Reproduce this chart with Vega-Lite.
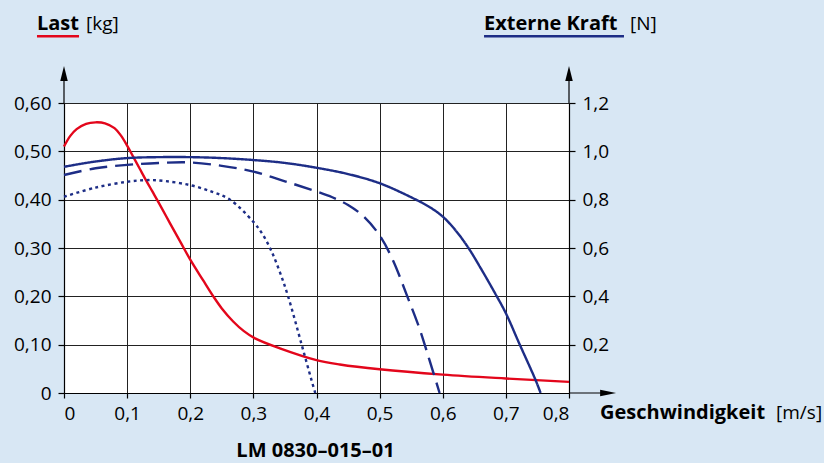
{
  "$schema": "https://vega.github.io/schema/vega-lite/v6.json",
  "width": 505,
  "height": 290,
  "autosize": {"type": "none"},
  "padding": {"left": 64, "top": 103, "right": 255, "bottom": 70},
  "background": "#d8e7f4",
  "config": {
    "view": {"fill": "white", "stroke": null},
    "font": "Open Sans",
    "text": {"font": "Open Sans", "fontSize": 19, "color": "black", "align": "left", "baseline": "alphabetic"},
    "axis": {
      "domainColor": "black", "domainWidth": 1.2, "tickColor": "black", "tickWidth": 1.2, "labelColor": "black",
      "labelFont": "Open Sans", "labelFontSize": 19, "gridColor": "#222222", "gridWidth": 1,
      "tickSize": 6, "labelPadding": 7, "title": null
    },
    "axisBottom": {"labelPadding": 6, "tickSize": 5},
    "axisRight": {"grid": false}
  },
  "datasets": {
    "one": [{}],
    "last": [
      {"v": 0, "kg": 0.51}, {"v": 0.01, "kg": 0.532}, {"v": 0.02, "kg": 0.546}, {"v": 0.035, "kg": 0.557},
      {"v": 0.05, "kg": 0.56}, {"v": 0.065, "kg": 0.558}, {"v": 0.08, "kg": 0.548}, {"v": 0.09, "kg": 0.533},
      {"v": 0.1, "kg": 0.512}, {"v": 0.11, "kg": 0.488}, {"v": 0.12, "kg": 0.464}, {"v": 0.13, "kg": 0.44},
      {"v": 0.14, "kg": 0.417}, {"v": 0.15, "kg": 0.394}, {"v": 0.168, "kg": 0.351}, {"v": 0.185, "kg": 0.311},
      {"v": 0.2, "kg": 0.276}, {"v": 0.22, "kg": 0.234}, {"v": 0.2365, "kg": 0.2}, {"v": 0.25, "kg": 0.175},
      {"v": 0.268, "kg": 0.148}, {"v": 0.285, "kg": 0.128}, {"v": 0.3026, "kg": 0.113}, {"v": 0.342, "kg": 0.0924},
      {"v": 0.4, "kg": 0.068}, {"v": 0.437, "kg": 0.059}, {"v": 0.5, "kg": 0.049}, {"v": 0.6, "kg": 0.038},
      {"v": 0.7, "kg": 0.03}, {"v": 0.8, "kg": 0.023}
    ],
    "kraft": [
      {"kurve": "Kurve 1", "v": 0, "n": 0.936}, {"kurve": "Kurve 1", "v": 0.05, "n": 0.958},
      {"kurve": "Kurve 1", "v": 0.1, "n": 0.972}, {"kurve": "Kurve 1", "v": 0.15, "n": 0.976},
      {"kurve": "Kurve 1", "v": 0.2, "n": 0.976}, {"kurve": "Kurve 1", "v": 0.25, "n": 0.972},
      {"kurve": "Kurve 1", "v": 0.3, "n": 0.964}, {"kurve": "Kurve 1", "v": 0.35, "n": 0.952},
      {"kurve": "Kurve 1", "v": 0.4, "n": 0.932}, {"kurve": "Kurve 1", "v": 0.45, "n": 0.906},
      {"kurve": "Kurve 1", "v": 0.5, "n": 0.868}, {"kurve": "Kurve 1", "v": 0.553, "n": 0.806},
      {"kurve": "Kurve 1", "v": 0.58, "n": 0.768}, {"kurve": "Kurve 1", "v": 0.6, "n": 0.73},
      {"kurve": "Kurve 1", "v": 0.62, "n": 0.674}, {"kurve": "Kurve 1", "v": 0.64, "n": 0.603},
      {"kurve": "Kurve 1", "v": 0.66, "n": 0.517}, {"kurve": "Kurve 1", "v": 0.683, "n": 0.412},
      {"kurve": "Kurve 1", "v": 0.7, "n": 0.33}, {"kurve": "Kurve 1", "v": 0.721, "n": 0.206},
      {"kurve": "Kurve 1", "v": 0.747, "n": 0.054}, {"kurve": "Kurve 1", "v": 0.755, "n": 0},
      {"kurve": "Kurve 2", "v": 0, "n": 0.902}, {"kurve": "Kurve 2", "v": 0.05, "n": 0.93},
      {"kurve": "Kurve 2", "v": 0.1, "n": 0.944}, {"kurve": "Kurve 2", "v": 0.15, "n": 0.952},
      {"kurve": "Kurve 2", "v": 0.2, "n": 0.954}, {"kurve": "Kurve 2", "v": 0.25, "n": 0.94},
      {"kurve": "Kurve 2", "v": 0.3, "n": 0.916}, {"kurve": "Kurve 2", "v": 0.35, "n": 0.876},
      {"kurve": "Kurve 2", "v": 0.4, "n": 0.834}, {"kurve": "Kurve 2", "v": 0.425, "n": 0.81},
      {"kurve": "Kurve 2", "v": 0.45, "n": 0.778}, {"kurve": "Kurve 2", "v": 0.475, "n": 0.73},
      {"kurve": "Kurve 2", "v": 0.5, "n": 0.652}, {"kurve": "Kurve 2", "v": 0.521, "n": 0.55},
      {"kurve": "Kurve 2", "v": 0.542, "n": 0.412}, {"kurve": "Kurve 2", "v": 0.563, "n": 0.268},
      {"kurve": "Kurve 2", "v": 0.579, "n": 0.136}, {"kurve": "Kurve 2", "v": 0.595, "n": 0},
      {"kurve": "Kurve 3", "v": 0, "n": 0.812}, {"kurve": "Kurve 3", "v": 0.05, "n": 0.85},
      {"kurve": "Kurve 3", "v": 0.1, "n": 0.874}, {"kurve": "Kurve 3", "v": 0.131, "n": 0.881},
      {"kurve": "Kurve 3", "v": 0.16, "n": 0.877}, {"kurve": "Kurve 3", "v": 0.2, "n": 0.86},
      {"kurve": "Kurve 3", "v": 0.235, "n": 0.832}, {"kurve": "Kurve 3", "v": 0.263, "n": 0.8},
      {"kurve": "Kurve 3", "v": 0.3, "n": 0.708}, {"kurve": "Kurve 3", "v": 0.315, "n": 0.655},
      {"kurve": "Kurve 3", "v": 0.329, "n": 0.585}, {"kurve": "Kurve 3", "v": 0.342, "n": 0.5},
      {"kurve": "Kurve 3", "v": 0.355, "n": 0.4}, {"kurve": "Kurve 3", "v": 0.3765, "n": 0.2},
      {"kurve": "Kurve 3", "v": 0.392, "n": 0.054}, {"kurve": "Kurve 3", "v": 0.398, "n": 0}
    ]
  },
  "layer": [
    {
      "layer": [
        {
          "data": {"name": "last"},
          "mark": {"type": "line", "color": "#e3061b", "strokeWidth": 2.4, "interpolate": "catmull-rom"},
          "encoding": {
            "x": {"field": "v", "type": "quantitative", "title": null,
                  "scale": {"domain": [0, 0.8], "nice": false},
                  "axis": {"values": [0, 0.1, 0.2, 0.3, 0.4, 0.5, 0.6, 0.7, 0.8], "grid": true,
                           "labelExpr": "datum.value == 0 ? '0' : replace(format(datum.value, '.1f'), '.', ',')"}},
            "y": {"field": "kg", "type": "quantitative", "title": null,
                  "scale": {"domain": [0, 0.6], "nice": false},
                  "axis": {"orient": "left", "values": [0, 0.1, 0.2, 0.3, 0.4, 0.5, 0.6], "grid": true,
                           "labelExpr": "datum.value == 0 ? '0' : replace(format(datum.value, '.2f'), '.', ',')"}}
          }
        },
        {
          "data": {"name": "one"},
          "mark": {"type": "rule", "color": "black", "strokeWidth": 1.2},
          "encoding": {"x": {"datum": 0, "type": "quantitative"}, "y": {"datum": 0.6, "type": "quantitative"}, "y2": {"datum": 0.65}}
        },
        {
          "data": {"name": "one"},
          "mark": {"type": "rule", "color": "black", "strokeWidth": 1.2},
          "encoding": {"x": {"datum": 0.8, "type": "quantitative"}, "y": {"datum": 0.6, "type": "quantitative"}, "y2": {"datum": 0.65}}
        },
        {
          "data": {"name": "one"},
          "mark": {"type": "rule", "color": "black", "strokeWidth": 1.2},
          "encoding": {"x": {"datum": 0.8, "type": "quantitative"}, "x2": {"datum": 0.855}, "y": {"datum": 0, "type": "quantitative"}}
        },
        {
          "data": {"name": "one"},
          "mark": {"type": "point", "shape": "M0,-1L0.5,1L-0.5,1Z", "filled": true, "color": "black", "size": 225, "opacity": 1},
          "encoding": {"x": {"datum": 0, "type": "quantitative"}, "y": {"datum": 0.661, "type": "quantitative"}}
        },
        {
          "data": {"name": "one"},
          "mark": {"type": "point", "shape": "M0,-1L0.5,1L-0.5,1Z", "filled": true, "color": "black", "size": 225, "opacity": 1},
          "encoding": {"x": {"datum": 0.8, "type": "quantitative"}, "y": {"datum": 0.661, "type": "quantitative"}}
        },
        {
          "data": {"name": "one"},
          "mark": {"type": "point", "shape": "M1,0L-1,-0.4L-1,0.4Z", "filled": true, "color": "black", "size": 256, "opacity": 1},
          "encoding": {"x": {"datum": 0.862, "type": "quantitative"}, "y": {"datum": 0, "type": "quantitative"}}
        },
        {
          "data": {"name": "one"},
          "mark": {"type": "text", "text": "Last", "fontWeight": "bold", "fontSize": 20},
          "encoding": {"x": {"datum": -0.0428, "type": "quantitative"}, "y": {"datum": 0.751, "type": "quantitative"}}
        },
        {
          "data": {"name": "one"},
          "mark": {"type": "text", "text": "[kg]"},
          "encoding": {"x": {"datum": 0.0349, "type": "quantitative"}, "y": {"datum": 0.751, "type": "quantitative"}}
        },
        {
          "data": {"name": "one"},
          "mark": {"type": "rule", "color": "#e3061b", "strokeWidth": 2.5},
          "encoding": {"x": {"datum": -0.0428, "type": "quantitative"}, "x2": {"datum": 0.0238}, "y": {"datum": 0.738, "type": "quantitative"}}
        },
        {
          "data": {"name": "one"},
          "mark": {"type": "text", "text": "Externe Kraft", "fontWeight": "bold", "fontSize": 20},
          "encoding": {"x": {"datum": 0.6654, "type": "quantitative"}, "y": {"datum": 0.751, "type": "quantitative"}}
        },
        {
          "data": {"name": "one"},
          "mark": {"type": "text", "text": "[N]"},
          "encoding": {"x": {"datum": 0.8966, "type": "quantitative"}, "y": {"datum": 0.751, "type": "quantitative"}}
        },
        {
          "data": {"name": "one"},
          "mark": {"type": "rule", "color": "#1d2d86", "strokeWidth": 2.5},
          "encoding": {"x": {"datum": 0.6654, "type": "quantitative"}, "x2": {"datum": 0.8871}, "y": {"datum": 0.738, "type": "quantitative"}}
        },
        {
          "data": {"name": "one"},
          "mark": {"type": "text", "text": "Geschwindigkeit", "fontWeight": "bold", "fontSize": 20},
          "encoding": {"x": {"datum": 0.8491, "type": "quantitative"}, "y": {"datum": -0.0538, "type": "quantitative"}}
        },
        {
          "data": {"name": "one"},
          "mark": {"type": "text", "text": "[m/s]"},
          "encoding": {"x": {"datum": 1.128, "type": "quantitative"}, "y": {"datum": -0.0538, "type": "quantitative"}}
        },
        {
          "data": {"name": "one"},
          "mark": {"type": "text", "text": "LM 0830–015–01", "fontWeight": "bold", "fontSize": 20, "align": "center"},
          "encoding": {"x": {"datum": 0.3984, "type": "quantitative"}, "y": {"datum": -0.1324, "type": "quantitative"}}
        }
      ]
    },
    {
      "data": {"name": "kraft"},
      "mark": {"type": "line", "color": "#1d2d86", "strokeWidth": 2.4, "interpolate": "catmull-rom"},
      "encoding": {
        "x": {"field": "v", "type": "quantitative", "title": null},
        "y": {"field": "n", "type": "quantitative", "title": null,
              "scale": {"domain": [0, 1.2], "nice": false},
              "axis": {"orient": "right", "values": [0.2, 0.4, 0.6, 0.8, 1.0, 1.2], "grid": false,
                       "labelExpr": "replace(format(datum.value, '.1f'), '.', ',')"}},
        "strokeDash": {"field": "kurve", "type": "nominal", "legend": null,
                       "scale": {"domain": ["Kurve 1", "Kurve 2", "Kurve 3"], "range": [[1, 0], [18, 8], [3, 3.5]]}}
      }
    }
  ],
  "resolve": {"scale": {"y": "independent"}}
}
